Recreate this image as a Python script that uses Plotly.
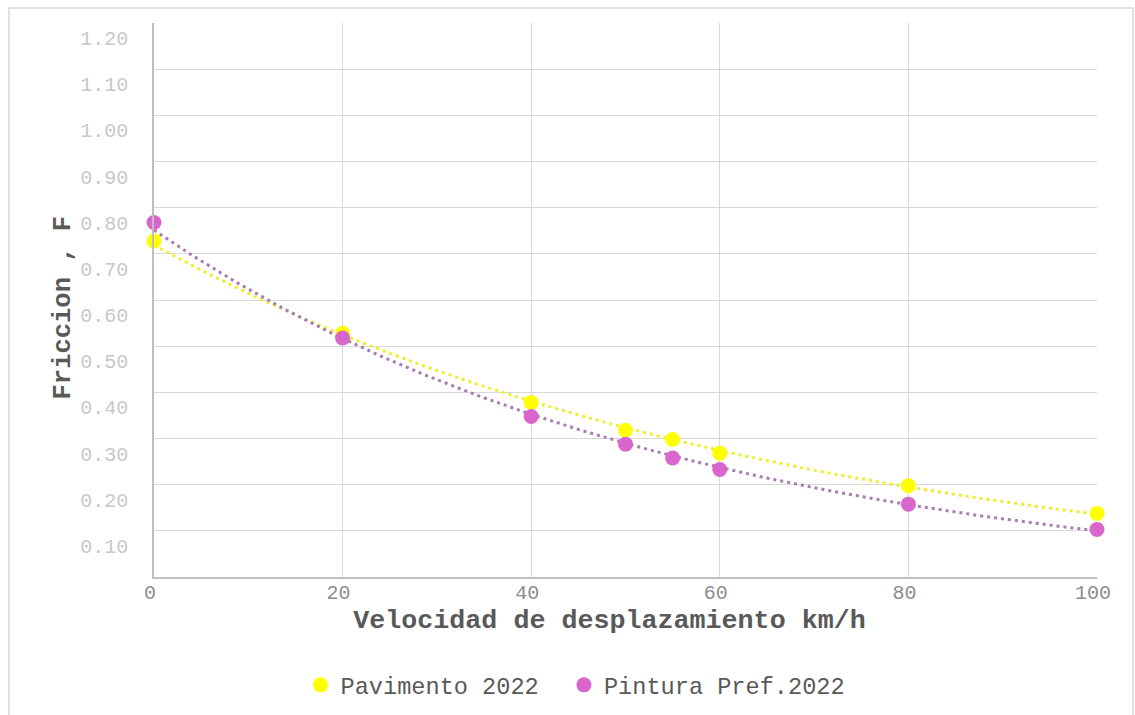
import numpy as np
import plotly.graph_objects as go

# Data
velocidad = [0, 20, 40, 50, 55, 60, 80, 100]
pavimento_2022 = [0.76, 0.56, 0.41, 0.35, 0.33, 0.30, 0.23, 0.17]
pintura_pref_2022 = [0.80, 0.55, 0.38, 0.32, 0.29, 0.265, 0.19, 0.135]
series_names = ["Pavimento 2022", "Pintura Pref.2022"]
y_tick_values = [round(0.1 * i, 2) for i in range(1, 13)]
x_tick_values = [0, 20, 40, 60, 80, 100]

marker_colors = ["#ffff00", "#d966cc"]
trend_colors = ["#eeee2a", "#a97caf"]
FONT = "Liberation Mono, Courier New, monospace"


def exp_trend(x, y):
    # Excel-style exponential trendline: least squares on ln(y)
    b, ln_a = np.polyfit(np.array(x, float), np.log(np.array(y, float)), 1)
    xs = np.linspace(min(x), max(x), 200)
    return xs, np.exp(ln_a) * np.exp(b * xs)


fig = go.Figure()

# empty trace so the main (grid) subplot is created
fig.add_trace(go.Scatter(x=[None], y=[None], mode="markers", showlegend=False,
                         hoverinfo="skip"))

for name, ys, tc in zip(series_names, [pavimento_2022, pintura_pref_2022], trend_colors):
    xs, yt = exp_trend(velocidad, ys)
    fig.add_trace(go.Scatter(x=xs, y=yt, mode="lines", xaxis="x", yaxis="y2",
                             line=dict(color=tc, width=3, dash="3px,4px"),
                             cliponaxis=False, showlegend=False, hoverinfo="skip"))

legend_names = ["Pavimento 2022&nbsp;<span style='font-size:10px'>&nbsp;</span>",
                "Pintura Pref.2022"]
for name, ys, mc in zip(legend_names, [pavimento_2022, pintura_pref_2022], marker_colors):
    fig.add_trace(go.Scatter(x=velocidad, y=ys, mode="markers", name=name,
                             xaxis="x", yaxis="y2", cliponaxis=False,
                             marker=dict(color=mc, size=15, line=dict(width=0))))

grid = "#d9d9d9"
axis_line = "#bfbfbf"

fig.update_layout(
    width=1135, height=715,
    margin=dict(l=154, r=38, t=23, b=138, autoexpand=False),
    paper_bgcolor="white", plot_bgcolor="white",
    font=dict(family=FONT, color="#595959"),
    # grid axes with labels
    xaxis=dict(range=[0, 100], tickvals=x_tick_values, showgrid=True,
               gridcolor=grid, gridwidth=1.3, zeroline=False,
               showline=True, linecolor=axis_line, linewidth=1.5, ticks="",
               ticklabelshift=-4, ticklabelstandoff=-4,
               tickfont=dict(family=FONT, size=20, color="#8c8c8c"),
               title=dict(text="<b>Velocidad de desplazamiento km/h&nbsp;&nbsp;</b>",
                          font=dict(family=FONT, size=26.7, color="#595959"),
                          standoff=6)),
    yaxis=dict(range=[0, 1.2], tickvals=y_tick_values, tickformat=".2f",
               showgrid=True, gridcolor=grid, gridwidth=1.3, zeroline=False,
               showline=True, linecolor=axis_line, linewidth=1.5, ticks="",
               ticklabelshift=15, ticklabelstandoff=20,
               tickfont=dict(family=FONT, size=20, color="#c8c8c8"),
               title=dict(text="<b>Friccion , F&nbsp;</b>",
                          font=dict(family=FONT, size=25.5, color="#595959"),
                          standoff=2)),
    # data y axis, offset like the original rendering
    yaxis2=dict(overlaying="y", side="left", range=[0.0322, 1.2322],
                visible=False),
    legend=dict(orientation="h", x=0.447, xanchor="center", y=-0.195, yanchor="middle",
                font=dict(family=FONT, size=23.6, color="#595959"),
                itemwidth=30, tracegroupgap=0, bgcolor="rgba(0,0,0,0)"),
    shapes=[dict(type="rect", xref="paper", yref="paper",
                 x0=-0.1538, x1=1.0382, y0=-0.26, y1=1.027,
                 line=dict(color="#d9d9d9", width=1.5), layer="below")],
)

fig.write_html("out.html")
